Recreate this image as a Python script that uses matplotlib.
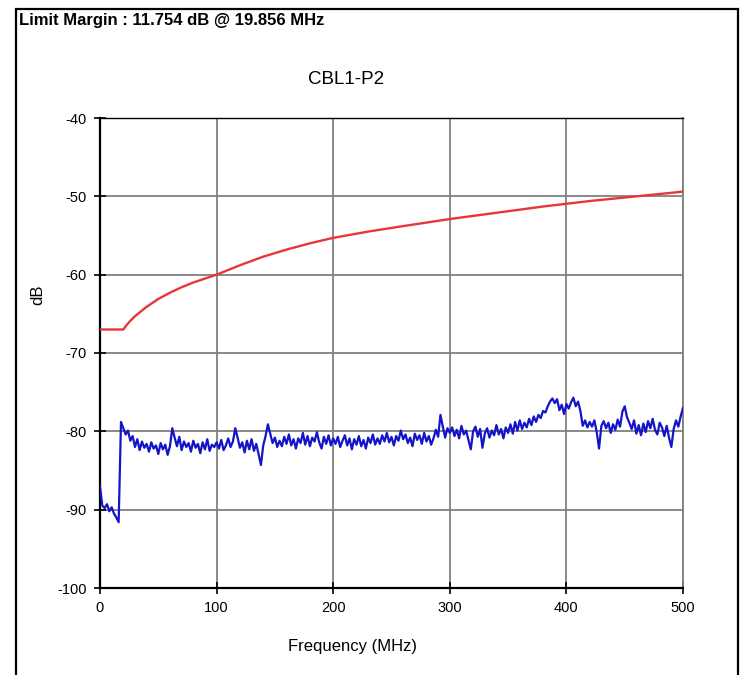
import numpy as np
import matplotlib
matplotlib.use("Agg")
import matplotlib.pyplot as plt
from matplotlib.patches import Rectangle

plt.rcParams["font.family"] = ["Liberation Sans", "DejaVu Sans"]
plt.rcParams["axes.unicode_minus"] = False

# Limit line (red)
LIMIT_FREQ = [0, 20, 23, 26, 30, 35, 40, 45, 50, 60, 70, 80, 90, 100, 120,
              140, 160, 180, 200, 230, 260, 300, 340, 380, 420, 460, 500]
LIMIT_DB = [-67.0, -67.0, -66.4, -65.9, -65.3, -64.7, -64.1, -63.6, -63.1,
            -62.3, -61.6, -61.0, -60.5, -60.0, -58.8, -57.7, -56.8, -56.0,
            -55.3, -54.5, -53.8, -52.9, -52.1, -51.3, -50.6, -50.0, -49.4]

# Measured trace (blue), one value every 2 MHz from 0 to 500 MHz
MEAS_DB = [
    # 0 - 16
    -87.0, -89.5, -89.8, -89.3, -90.2, -89.7, -90.5, -91.0, -91.6,
    # 18 - 60
    -78.8, -79.6, -80.4, -79.9, -81.2, -80.6, -82.0, -81.0, -82.4, -81.3, -82.1,
    -81.6, -82.6, -81.4, -82.2, -81.8, -82.9, -81.5, -82.3, -81.7, -83.0, -81.9,
    # 62 - 100
    -79.6, -80.8, -81.9, -80.7, -82.4, -81.3, -82.0, -81.5, -82.6, -81.2,
    -82.1, -81.6, -82.8, -81.4, -82.3, -81.0, -82.5, -81.7, -82.0, -81.4,
    # 102 - 140
    -82.2, -81.1, -82.4, -81.8, -80.9, -82.0, -81.3, -79.6, -80.8, -82.1,
    -81.4, -82.7, -81.2, -82.3, -81.0, -82.5, -81.6, -82.9, -84.3, -81.8,
    # 142 - 200
    -80.6, -79.1, -80.3, -81.5, -80.8, -82.0, -81.2, -81.9, -80.7, -81.6,
    -80.4, -81.8, -81.0, -82.2, -80.9, -81.5, -80.2, -81.7, -80.6, -81.9,
    -80.8, -81.3, -80.1, -81.4, -82.2, -80.7, -81.6, -80.5, -81.8, -80.9,
    # 202 - 300
    -81.6, -80.7, -82.0, -81.2, -80.5, -81.8, -80.9, -82.3, -81.0, -81.7,
    -80.6, -81.9, -81.1, -82.2, -80.8, -81.5, -80.4, -81.7, -80.9, -81.6,
    -80.5, -81.3, -80.2, -81.4, -80.7, -81.8, -80.6, -81.2, -79.9, -81.0,
    -80.4, -81.5, -80.8, -81.9, -80.3, -81.1, -80.5, -81.6, -80.2, -81.3,
    -80.6, -81.7, -80.9, -79.8, -80.7, -77.9, -79.4, -80.8, -79.6, -80.2,
    # 302 - 380
    -79.5, -80.6, -79.8, -80.9, -79.3, -80.4, -79.9, -81.1, -82.3, -80.0,
    -79.4, -80.7, -79.7, -82.1, -80.3, -79.6, -80.8, -79.9, -80.5, -79.2,
    -80.4, -79.7, -80.9, -79.5, -80.2, -79.1, -80.3, -78.8, -79.9, -78.6,
    -79.7, -78.9, -79.5, -78.4, -79.2, -78.1, -78.8, -77.9, -78.3, -77.4,
    # 382 - 420
    -77.6, -76.8, -76.2, -75.8, -76.4, -75.9, -77.3, -76.6, -77.8, -76.5,
    -77.1, -76.3, -75.7, -76.8, -76.2, -77.4, -79.3, -78.6, -79.5, -78.8,
    # 422 - 500
    -79.4, -78.6, -80.1, -82.2, -79.3, -78.7, -79.6, -78.9, -80.2, -79.1,
    -79.8, -78.5, -79.4, -77.5, -76.8, -78.2, -78.9, -79.7, -78.6, -80.3,
    -79.2, -80.5, -79.0, -80.1, -78.7, -79.6, -78.4, -79.8, -80.4, -78.9,
    -79.5, -80.6, -79.3, -80.8, -82.0, -79.7, -78.6, -79.4, -78.1, -77.0,
]
MEAS_FREQ = np.linspace(0, 500, len(MEAS_DB))

X_TICKS = [0, 100, 200, 300, 400, 500]
Y_TICKS = [-100, -90, -80, -70, -60, -50, -40]

TITLE = "CBL1-P2"
HEADER = "Limit Margin : 11.754 dB @ 19.856 MHz"

W, H = 750, 675
fig = plt.figure(figsize=(7.5, 6.75), dpi=100)

# outer frame (bottom edge runs off the image)
fig.add_artist(Rectangle((16 / W, -0.02), 722 / W, 1 - 9 / H + 0.02,
                         transform=fig.transFigure, fill=False,
                         edgecolor="black", linewidth=1.6))
fig.text(19 / W, 1 - 21 / H, HEADER, ha="left", va="center",
         fontsize=12, fontweight="bold", color="black")
fig.text(346 / W, 1 - 80 / H, TITLE, ha="center", va="center",
         fontsize=13.5)

ax = fig.add_axes([100 / W, 1 - 588 / H, 583 / W, 470 / H])

ax.plot(LIMIT_FREQ, LIMIT_DB, color="#e8353a", linewidth=1.7, zorder=3)
ax.plot(MEAS_FREQ, MEAS_DB, color="#1414c8", linewidth=1.6, zorder=3)

ax.set_xlim(0, 500)
ax.set_ylim(-100, -40)
ax.set_xticks(X_TICKS)
ax.set_yticks(Y_TICKS)
ax.grid(True, color="#808080", linewidth=1.3)
ax.set_axisbelow(True)
ax.tick_params(direction="inout", length=9, width=1.2, labelsize=10.5,
               pad=5)

for side in ("left", "bottom"):
    ax.spines[side].set_linewidth(1.6)
    ax.spines[side].set_color("black")
ax.spines["top"].set_linewidth(1.0)
ax.spines["right"].set_color("#808080")
ax.spines["right"].set_linewidth(1.3)

# axis labels sit off-centre in the reference
ax.set_xlabel("Frequency (MHz)", fontsize=12)
ax.xaxis.set_label_coords((353 - 100) / 583, -(647 - 588) / 470)
ax.xaxis.label.set_va("center")
ax.set_ylabel("dB", fontsize=12)
ax.yaxis.set_label_coords((38 - 100) / 583, (588 - 295) / 470)
ax.yaxis.label.set_va("center")

fig.savefig("out.png", dpi=100)
